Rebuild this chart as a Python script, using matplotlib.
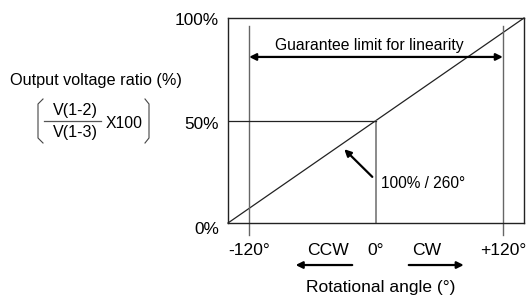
import matplotlib
matplotlib.use("Agg")
import matplotlib.pyplot as plt

plt.rcParams['font.family'] = ['Liberation Sans', 'DejaVu Sans']

# data
angle = [-140, 140]          # characteristic line end points (deg)
ratio = [0, 100]             # output voltage ratio (%)
limit_angles = [-120, 120]   # guarantee limit for linearity
center_angle = 0
center_ratio = 50
y_ticks = [0, 50, 100]
y_tick_labels = ['0%', '50%', '100%']
x_ticks = [-120, 0, 120]
x_tick_labels = ['-120°', '0°', '+120°']

W, H = 529, 298
fig = plt.figure(figsize=(W/100, H/100), dpi=100)
ax = fig.add_axes([228/W, 1-223/H, 296/W, 205/H])
ax.set_xlim(-140, 140)
ax.set_ylim(0, 100)
ax.set_xticks([]); ax.set_yticks([])
for s in ax.spines.values():
    s.set_linewidth(1.0)
    s.set_color('#222222')

fs = 11.6
fs_tick = 12.4
fs_bottom = 12.6
# diagonal
ax.plot(angle, ratio, color='#222222', lw=0.9, clip_on=False)
# guarantee limit lines (extend below axis)
for a in limit_angles:
    ax.plot([a, a], [-6, 96], color='#666666', lw=1.0, clip_on=False)
# center lines
ax.plot([center_angle, center_angle], [0, center_ratio], color='#777777', lw=1.2)
ax.plot([-140, center_angle], [center_ratio, center_ratio], color='#222222', lw=0.9)

arrow_kw = dict(arrowstyle='-|>', color='black', lw=1.6, mutation_scale=10,
                shrinkA=0, shrinkB=0)
# guarantee arrow
ax.annotate('', xy=(limit_angles[0], 81), xytext=(limit_angles[1], 81),
            arrowprops=dict(arrow_kw, arrowstyle='<|-|>'))
ax.text(-6, 86.5, 'Guarantee limit for linearity', ha='center', va='center', fontsize=11.3)

# slope annotation
ax.annotate('', xy=(-30, 36), xytext=(-3.5, 22.5), arrowprops=arrow_kw)
ax.text(4.5, 19.3, '100% / 260°', ha='left', va='center', fontsize=11.2)

# y tick labels
ax.text(-148.5, 99, y_tick_labels[2], ha='right', va='center', fontsize=fs_tick, clip_on=False)
ax.text(-148.5, 48, y_tick_labels[1], ha='right', va='center', fontsize=fs_tick, clip_on=False)
ax.text(-148.5, -3, y_tick_labels[0], ha='right', va='center', fontsize=fs_tick, clip_on=False)

# x tick labels
for xt, lab in zip(x_ticks, x_tick_labels):
    ax.text(xt, -13.2, lab, ha='center', va='center', fontsize=fs_bottom, clip_on=False)
ax.text(-45, -13.5, 'CCW', ha='center', va='center', fontsize=fs_bottom, clip_on=False)
ax.text(48, -13.5, 'CW', ha='center', va='center', fontsize=fs_bottom, clip_on=False)
ax.annotate('', xy=(-76, -20.5), xytext=(-22.5, -20.5), annotation_clip=False,
            arrowprops=arrow_kw)
ax.annotate('', xy=(83, -20.5), xytext=(31, -20.5), annotation_clip=False,
            arrowprops=arrow_kw)
ax.text(4, -31.7, 'Rotational angle (°)', ha='center', va='center', fontsize=12.5,
        clip_on=False)

# y-axis title
fig.text(10/W, 1-80/H, 'Output voltage ratio (%)', ha='left', va='center', fontsize=11.7)
fig.text(75/W, 1-110/H, 'V(1-2)', ha='center', va='center', fontsize=fs)
fig.text(75/W, 1-132/H, 'V(1-3)', ha='center', va='center', fontsize=fs)
fig.lines.append(plt.Line2D([44/W, 101/W], [1-121/H, 1-121/H], transform=fig.transFigure,
                            color='#555555', lw=0.9))
fig.text(106/W, 1-123/H, 'X100', ha='left', va='center', fontsize=11.3)
# brackets
fig.lines.append(plt.Line2D([43/W, 38/W, 38/W, 43/W],
                            [1-99/H, 1-104/H, 1-138/H, 1-143/H], transform=fig.transFigure,
                            color='#444444', lw=0.8))
fig.lines.append(plt.Line2D([145/W, 149/W, 149/W, 145/W],
                            [1-99/H, 1-104/H, 1-138/H, 1-143/H], transform=fig.transFigure,
                            color='#444444', lw=0.8))

fig.savefig('out.png', dpi=100, facecolor='white')
